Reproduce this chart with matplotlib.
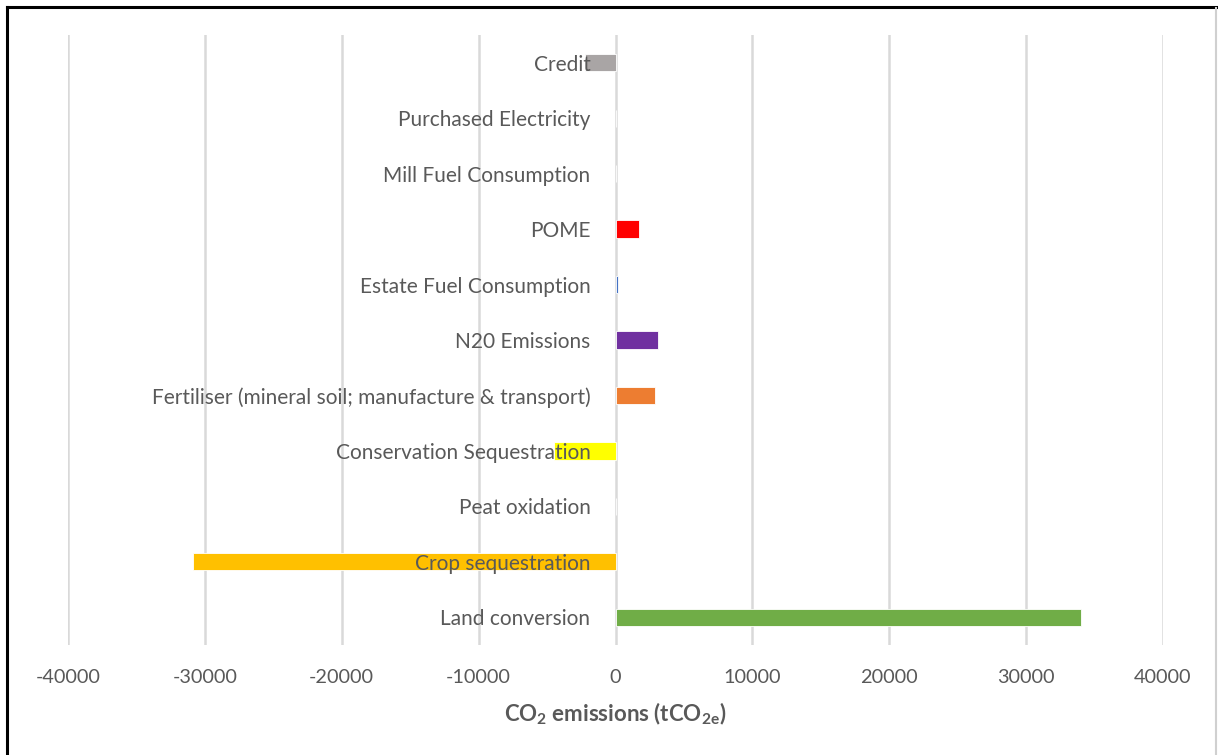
import matplotlib
matplotlib.use("Agg")
import matplotlib.pyplot as plt
from matplotlib.lines import Line2D

# Emission sources, listed bottom to top
categories = [
    "Land conversion",
    "Crop sequestration",
    "Peat oxidation",
    "Conservation Sequestration",
    "Fertiliser (mineral soil; manufacture & transport)",
    "N20 Emissions",
    "Estate Fuel Consumption",
    "POME",
    "Mill Fuel Consumption",
    "Purchased Electricity",
    "Credit",
]
emissions = [34000, -30900, 0, -4500, 2900, 3100, 200, 1700, 0, 0, -2200]
bar_colors = [
    "#70AD47", "#FFC000", "#A5A5A5", "#FFFF00", "#ED7D31", "#7030A0",
    "#4472C4", "#FF0000", "#A5A5A5", "#A5A5A5", "#A9A5A5",
]
x_ticks = [-40000, -30000, -20000, -10000, 0, 10000, 20000, 30000, 40000]

plt.rcParams["font.family"] = ["Lato", "DejaVu Sans"]
plt.rcParams["mathtext.default"] = "regular"
text_color = "#595959"
grid_color = "#D9D9D9"

W, H = 1218, 755
fig = plt.figure(figsize=(W / 100, H / 100), dpi=100)
fig.patch.set_facecolor("white")

left, right, top, bottom = 68, 1163, 35, 645
ax = fig.add_axes([left / W, 1 - bottom / H, (right - left) / W, (bottom - top) / H])

y = list(range(len(categories)))
ax.barh(y, emissions, height=0.31, color=bar_colors, edgecolor="white",
        linewidth=0.6, zorder=2)

ax.set_xlim(-40000, 40000)
ax.set_ylim(-0.5, len(categories) - 0.5)
ax.set_xticks(x_ticks)
ax.set_xticklabels([str(v) for v in x_ticks])
ax.set_yticks([])
ax.tick_params(axis="x", length=0, pad=17, labelsize=14.3, labelcolor=text_color)
ax.grid(axis="x", color=grid_color, linewidth=1.8, zorder=0)
for s in ax.spines.values():
    s.set_visible(False)

# Category labels sit just left of the zero line, over the bars
for yi, name in zip(y, categories):
    ax.annotate(name, xy=(0, yi), xytext=(-18, 0), textcoords="offset points",
                ha="right", va="center_baseline", fontsize=15, color=text_color,
                zorder=5)

ax.set_xlabel(r"CO$_2$ emissions (tCO$_{2e}$)", fontsize=16, fontweight="bold",
              color=text_color, labelpad=11)

# Frame around the figure
fig.add_artist(Line2D([7 / W, 7 / W], [0, 1 - 7 / H], transform=fig.transFigure,
                      color="black", linewidth=2.2))
fig.add_artist(Line2D([7 / W, 1], [1 - 7 / H, 1 - 7 / H], transform=fig.transFigure,
                      color="black", linewidth=2.2))
fig.add_artist(Line2D([1216 / W, 1216 / W], [0, 1 - 8 / H], transform=fig.transFigure,
                      color="#D0D0D0", linewidth=1.5))

fig.savefig("out.png", dpi=100)
